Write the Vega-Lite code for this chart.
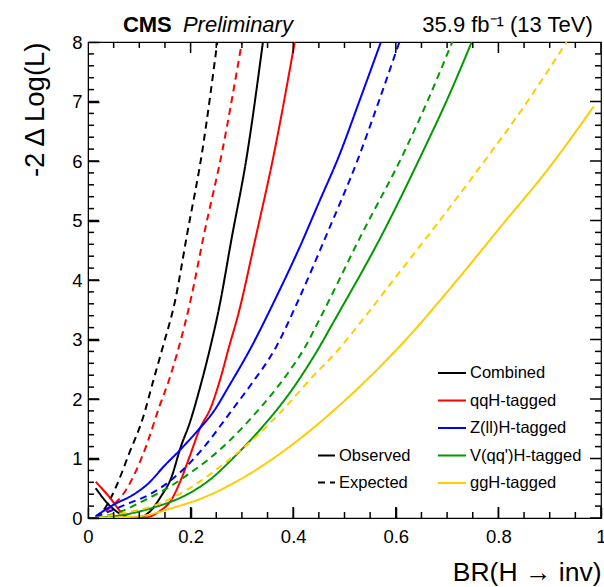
{
  "$schema": "https://vega.github.io/schema/vega-lite/v6.json",
  "width": 513,
  "height": 476,
  "autosize": {"type": "none"},
  "padding": {"left": 88, "top": 42, "right": 3, "bottom": 69},
  "background": "white",
  "config": {
    "font": "Liberation Sans",
    "view": {"stroke": "black", "strokeWidth": 1.2}
  },
  "datasets": {
    "curves": [
      {"channel":"Combined","kind":"Observed","x":0.015,"y":0.50},{"channel":"Combined","kind":"Observed","x":0.041,"y":0.22},{"channel":"Combined","kind":"Observed","x":0.067,"y":0.05},{"channel":"Combined","kind":"Observed","x":0.087,"y":0.01},{"channel":"Combined","kind":"Observed","x":0.10,"y":0.01},{"channel":"Combined","kind":"Observed","x":0.123,"y":0.13},{"channel":"Combined","kind":"Observed","x":0.142,"y":0.36},{"channel":"Combined","kind":"Observed","x":0.162,"y":0.67},{"channel":"Combined","kind":"Observed","x":0.181,"y":1.2},{"channel":"Combined","kind":"Observed","x":0.198,"y":1.59},{"channel":"Combined","kind":"Observed","x":0.217,"y":2.15},{"channel":"Combined","kind":"Observed","x":0.237,"y":2.82},{"channel":"Combined","kind":"Observed","x":0.256,"y":3.55},{"channel":"Combined","kind":"Observed","x":0.28,"y":4.7},{"channel":"Combined","kind":"Observed","x":0.309,"y":6.05},{"channel":"Combined","kind":"Observed","x":0.341,"y":8.0},
      {"channel":"Combined","kind":"Expected","x":0.015,"y":0.0},{"channel":"Combined","kind":"Expected","x":0.035,"y":0.19},{"channel":"Combined","kind":"Expected","x":0.056,"y":0.55},{"channel":"Combined","kind":"Expected","x":0.08,"y":1.08},{"channel":"Combined","kind":"Expected","x":0.107,"y":1.68},{"channel":"Combined","kind":"Expected","x":0.127,"y":2.3},{"channel":"Combined","kind":"Expected","x":0.145,"y":2.85},{"channel":"Combined","kind":"Expected","x":0.17,"y":3.66},{"channel":"Combined","kind":"Expected","x":0.193,"y":4.76},{"channel":"Combined","kind":"Expected","x":0.223,"y":6.18},{"channel":"Combined","kind":"Expected","x":0.252,"y":8.0},
      {"channel":"qqH-tagged","kind":"Observed","x":0.015,"y":0.61},{"channel":"qqH-tagged","kind":"Observed","x":0.041,"y":0.36},{"channel":"qqH-tagged","kind":"Observed","x":0.067,"y":0.08},{"channel":"qqH-tagged","kind":"Observed","x":0.08,"y":0.01},{"channel":"qqH-tagged","kind":"Observed","x":0.10,"y":0.0},{"channel":"qqH-tagged","kind":"Observed","x":0.119,"y":0.02},{"channel":"qqH-tagged","kind":"Observed","x":0.139,"y":0.11},{"channel":"qqH-tagged","kind":"Observed","x":0.162,"y":0.30},{"channel":"qqH-tagged","kind":"Observed","x":0.181,"y":0.64},{"channel":"qqH-tagged","kind":"Observed","x":0.198,"y":1.03},{"channel":"qqH-tagged","kind":"Observed","x":0.217,"y":1.48},{"channel":"qqH-tagged","kind":"Observed","x":0.24,"y":1.87},{"channel":"qqH-tagged","kind":"Observed","x":0.261,"y":2.43},{"channel":"qqH-tagged","kind":"Observed","x":0.275,"y":2.88},{"channel":"qqH-tagged","kind":"Observed","x":0.291,"y":3.36},{"channel":"qqH-tagged","kind":"Observed","x":0.328,"y":4.76},{"channel":"qqH-tagged","kind":"Observed","x":0.362,"y":6.1},{"channel":"qqH-tagged","kind":"Observed","x":0.403,"y":8.0},
      {"channel":"qqH-tagged","kind":"Expected","x":0.015,"y":0.0},{"channel":"qqH-tagged","kind":"Expected","x":0.04,"y":0.15},{"channel":"qqH-tagged","kind":"Expected","x":0.074,"y":0.47},{"channel":"qqH-tagged","kind":"Expected","x":0.113,"y":1.2},{"channel":"qqH-tagged","kind":"Expected","x":0.139,"y":1.87},{"channel":"qqH-tagged","kind":"Expected","x":0.158,"y":2.32},{"channel":"qqH-tagged","kind":"Expected","x":0.178,"y":2.9},{"channel":"qqH-tagged","kind":"Expected","x":0.2,"y":3.66},{"channel":"qqH-tagged","kind":"Expected","x":0.226,"y":4.76},{"channel":"qqH-tagged","kind":"Expected","x":0.262,"y":6.18},{"channel":"qqH-tagged","kind":"Expected","x":0.30,"y":8.0},
      {"channel":"Z(ll)H-tagged","kind":"Observed","x":0.015,"y":0.03},{"channel":"Z(ll)H-tagged","kind":"Observed","x":0.049,"y":0.22},{"channel":"Z(ll)H-tagged","kind":"Observed","x":0.088,"y":0.39},{"channel":"Z(ll)H-tagged","kind":"Observed","x":0.12,"y":0.6},{"channel":"Z(ll)H-tagged","kind":"Observed","x":0.147,"y":0.86},{"channel":"Z(ll)H-tagged","kind":"Observed","x":0.179,"y":1.14},{"channel":"Z(ll)H-tagged","kind":"Observed","x":0.215,"y":1.48},{"channel":"Z(ll)H-tagged","kind":"Observed","x":0.244,"y":1.78},{"channel":"Z(ll)H-tagged","kind":"Observed","x":0.277,"y":2.25},{"channel":"Z(ll)H-tagged","kind":"Observed","x":0.315,"y":2.82},{"channel":"Z(ll)H-tagged","kind":"Observed","x":0.364,"y":3.66},{"channel":"Z(ll)H-tagged","kind":"Observed","x":0.413,"y":4.56},{"channel":"Z(ll)H-tagged","kind":"Observed","x":0.45,"y":5.3},{"channel":"Z(ll)H-tagged","kind":"Observed","x":0.49,"y":6.1},{"channel":"Z(ll)H-tagged","kind":"Observed","x":0.53,"y":7.03},{"channel":"Z(ll)H-tagged","kind":"Observed","x":0.571,"y":8.0},
      {"channel":"Z(ll)H-tagged","kind":"Expected","x":0.015,"y":0.02},{"channel":"Z(ll)H-tagged","kind":"Expected","x":0.047,"y":0.13},{"channel":"Z(ll)H-tagged","kind":"Expected","x":0.08,"y":0.25},{"channel":"Z(ll)H-tagged","kind":"Expected","x":0.119,"y":0.39},{"channel":"Z(ll)H-tagged","kind":"Expected","x":0.158,"y":0.61},{"channel":"Z(ll)H-tagged","kind":"Expected","x":0.198,"y":0.92},{"channel":"Z(ll)H-tagged","kind":"Expected","x":0.237,"y":1.31},{"channel":"Z(ll)H-tagged","kind":"Expected","x":0.276,"y":1.76},{"channel":"Z(ll)H-tagged","kind":"Expected","x":0.315,"y":2.21},{"channel":"Z(ll)H-tagged","kind":"Expected","x":0.367,"y":2.88},{"channel":"Z(ll)H-tagged","kind":"Expected","x":0.41,"y":3.66},{"channel":"Z(ll)H-tagged","kind":"Expected","x":0.465,"y":4.76},{"channel":"Z(ll)H-tagged","kind":"Expected","x":0.527,"y":6.05},{"channel":"Z(ll)H-tagged","kind":"Expected","x":0.568,"y":7.03},{"channel":"Z(ll)H-tagged","kind":"Expected","x":0.607,"y":8.0},
      {"channel":"V(qq')H-tagged","kind":"Observed","x":0.015,"y":0.0},{"channel":"V(qq')H-tagged","kind":"Observed","x":0.067,"y":0.05},{"channel":"V(qq')H-tagged","kind":"Observed","x":0.133,"y":0.19},{"channel":"V(qq')H-tagged","kind":"Observed","x":0.185,"y":0.36},{"channel":"V(qq')H-tagged","kind":"Observed","x":0.237,"y":0.64},{"channel":"V(qq')H-tagged","kind":"Observed","x":0.289,"y":1.06},{"channel":"V(qq')H-tagged","kind":"Observed","x":0.341,"y":1.54},{"channel":"V(qq')H-tagged","kind":"Observed","x":0.393,"y":2.1},{"channel":"V(qq')H-tagged","kind":"Observed","x":0.446,"y":2.8},{"channel":"V(qq')H-tagged","kind":"Observed","x":0.481,"y":3.33},{"channel":"V(qq')H-tagged","kind":"Observed","x":0.573,"y":4.76},{"channel":"V(qq')H-tagged","kind":"Observed","x":0.654,"y":6.18},{"channel":"V(qq')H-tagged","kind":"Observed","x":0.70,"y":7.03},{"channel":"V(qq')H-tagged","kind":"Observed","x":0.748,"y":8.0},
      {"channel":"V(qq')H-tagged","kind":"Expected","x":0.015,"y":0.0},{"channel":"V(qq')H-tagged","kind":"Expected","x":0.067,"y":0.12},{"channel":"V(qq')H-tagged","kind":"Expected","x":0.106,"y":0.28},{"channel":"V(qq')H-tagged","kind":"Expected","x":0.158,"y":0.52},{"channel":"V(qq')H-tagged","kind":"Expected","x":0.198,"y":0.75},{"channel":"V(qq')H-tagged","kind":"Expected","x":0.237,"y":1.0},{"channel":"V(qq')H-tagged","kind":"Expected","x":0.276,"y":1.3},{"channel":"V(qq')H-tagged","kind":"Expected","x":0.315,"y":1.65},{"channel":"V(qq')H-tagged","kind":"Expected","x":0.36,"y":2.1},{"channel":"V(qq')H-tagged","kind":"Expected","x":0.395,"y":2.5},{"channel":"V(qq')H-tagged","kind":"Expected","x":0.423,"y":2.87},{"channel":"V(qq')H-tagged","kind":"Expected","x":0.449,"y":3.3},{"channel":"V(qq')H-tagged","kind":"Expected","x":0.533,"y":4.76},{"channel":"V(qq')H-tagged","kind":"Expected","x":0.618,"y":6.18},{"channel":"V(qq')H-tagged","kind":"Expected","x":0.663,"y":7.03},{"channel":"V(qq')H-tagged","kind":"Expected","x":0.71,"y":8.0},
      {"channel":"ggH-tagged","kind":"Observed","x":0.015,"y":0.0},{"channel":"ggH-tagged","kind":"Observed","x":0.1,"y":0.03},{"channel":"ggH-tagged","kind":"Observed","x":0.165,"y":0.17},{"channel":"ggH-tagged","kind":"Observed","x":0.23,"y":0.36},{"channel":"ggH-tagged","kind":"Observed","x":0.295,"y":0.64},{"channel":"ggH-tagged","kind":"Observed","x":0.361,"y":1.0},{"channel":"ggH-tagged","kind":"Observed","x":0.426,"y":1.42},{"channel":"ggH-tagged","kind":"Observed","x":0.491,"y":1.9},{"channel":"ggH-tagged","kind":"Observed","x":0.569,"y":2.54},{"channel":"ggH-tagged","kind":"Observed","x":0.62,"y":3.0},{"channel":"ggH-tagged","kind":"Observed","x":0.71,"y":3.9},{"channel":"ggH-tagged","kind":"Observed","x":0.804,"y":4.89},{"channel":"ggH-tagged","kind":"Observed","x":0.9,"y":5.9},{"channel":"ggH-tagged","kind":"Observed","x":0.986,"y":6.92},
      {"channel":"ggH-tagged","kind":"Expected","x":0.015,"y":0.0},{"channel":"ggH-tagged","kind":"Expected","x":0.067,"y":0.08},{"channel":"ggH-tagged","kind":"Expected","x":0.133,"y":0.22},{"channel":"ggH-tagged","kind":"Expected","x":0.198,"y":0.5},{"channel":"ggH-tagged","kind":"Expected","x":0.263,"y":0.9},{"channel":"ggH-tagged","kind":"Expected","x":0.328,"y":1.37},{"channel":"ggH-tagged","kind":"Expected","x":0.38,"y":1.82},{"channel":"ggH-tagged","kind":"Expected","x":0.432,"y":2.32},{"channel":"ggH-tagged","kind":"Expected","x":0.49,"y":2.85},{"channel":"ggH-tagged","kind":"Expected","x":0.537,"y":3.35},{"channel":"ggH-tagged","kind":"Expected","x":0.6,"y":4.05},{"channel":"ggH-tagged","kind":"Expected","x":0.667,"y":4.79},{"channel":"ggH-tagged","kind":"Expected","x":0.76,"y":5.85},{"channel":"ggH-tagged","kind":"Expected","x":0.859,"y":7.03},{"channel":"ggH-tagged","kind":"Expected","x":0.933,"y":8.0}
    ],
    "notes": [
      {"part": "cms", "label": "CMS", "x": 0.068, "y": 8},
      {"part": "prelim", "label": "Preliminary", "x": 0.185, "y": 8},
      {"part": "lumi", "label": "35.9 fb⁻¹ (13 TeV)", "x": 0.984, "y": 8}
    ],
    "xticks": [
      {"x":0.0,"level":"major"},{"x":0.05,"level":"minor"},{"x":0.1,"level":"minor"},{"x":0.15,"level":"minor"},{"x":0.2,"level":"major"},{"x":0.25,"level":"minor"},{"x":0.3,"level":"minor"},{"x":0.35,"level":"minor"},{"x":0.4,"level":"major"},{"x":0.45,"level":"minor"},{"x":0.5,"level":"minor"},{"x":0.55,"level":"minor"},{"x":0.6,"level":"major"},{"x":0.65,"level":"minor"},{"x":0.7,"level":"minor"},{"x":0.75,"level":"minor"},{"x":0.8,"level":"major"},{"x":0.85,"level":"minor"},{"x":0.9,"level":"minor"},{"x":0.95,"level":"minor"},{"x":1.0,"level":"major"}
    ],
    "yticks": [
      {"y":0,"level":"major"},{"y":0.2,"level":"minor"},{"y":0.4,"level":"minor"},{"y":0.6,"level":"minor"},{"y":0.8,"level":"minor"},
      {"y":1,"level":"major"},{"y":1.2,"level":"minor"},{"y":1.4,"level":"minor"},{"y":1.6,"level":"minor"},{"y":1.8,"level":"minor"},
      {"y":2,"level":"major"},{"y":2.2,"level":"minor"},{"y":2.4,"level":"minor"},{"y":2.6,"level":"minor"},{"y":2.8,"level":"minor"},
      {"y":3,"level":"major"},{"y":3.2,"level":"minor"},{"y":3.4,"level":"minor"},{"y":3.6,"level":"minor"},{"y":3.8,"level":"minor"},
      {"y":4,"level":"major"},{"y":4.2,"level":"minor"},{"y":4.4,"level":"minor"},{"y":4.6,"level":"minor"},{"y":4.8,"level":"minor"},
      {"y":5,"level":"major"},{"y":5.2,"level":"minor"},{"y":5.4,"level":"minor"},{"y":5.6,"level":"minor"},{"y":5.8,"level":"minor"},
      {"y":6,"level":"major"},{"y":6.2,"level":"minor"},{"y":6.4,"level":"minor"},{"y":6.6,"level":"minor"},{"y":6.8,"level":"minor"},
      {"y":7,"level":"major"},{"y":7.2,"level":"minor"},{"y":7.4,"level":"minor"},{"y":7.6,"level":"minor"},{"y":7.8,"level":"minor"},
      {"y":8,"level":"major"}
    ]
  },
  "layer": [
    {
      "data": {"name": "curves"},
      "mark": {"type": "line", "strokeWidth": 2, "interpolate": "monotone", "clip": true},
      "encoding": {
        "x": {
          "field": "x", "type": "quantitative",
          "scale": {"domain": [0, 1], "nice": false, "zero": false},
          "axis": {
            "orient": "bottom", "grid": true, "gridOpacity": 0, "domainColor": "black", "tickColor": "black", "tickWidth": 1.5, "tickSize": -11,
            "values": [0, 0.2, 0.4, 0.6, 0.8, 1], "format": "~g",
            "labelFontSize": 18.5, "labelColor": "black", "labelBaseline": "top", "labelPadding": 20, "labelFlush": false, "labelOverlap": false,
            "title": "BR(H → inv)", "titleColor": "black", "titleFontSize": 26.5, "titleFontWeight": "normal",
            "titleX": 513, "titleY": 62, "titleAlign": "right", "titleBaseline": "alphabetic"
          }
        },
        "y": {
          "field": "y", "type": "quantitative",
          "scale": {"domain": [0, 8], "nice": false, "zero": false},
          "axis": {
            "orient": "left", "grid": true, "gridOpacity": 0, "domainColor": "black", "tickColor": "black", "tickWidth": 1.5, "tickSize": -11,
            "values": [0, 1, 2, 3, 4, 5, 6, 7, 8], "format": "~g",
            "labelFontSize": 18.5, "labelColor": "black", "labelAlign": "right", "labelBaseline": "middle", "labelPadding": 17, "labelFlush": false, "labelOverlap": false,
            "title": "-2 Δ Log(L)", "titleColor": "black", "titleFontSize": 27.5, "titleFontWeight": "normal",
            "titleAngle": 270, "titleX": -45, "titleY": 0, "titleAlign": "right", "titleBaseline": "alphabetic"
          }
        },
        "color": {
          "field": "channel", "type": "nominal",
          "scale": {"domain": ["Combined", "qqH-tagged", "Z(ll)H-tagged", "V(qq')H-tagged", "ggH-tagged"], "range": ["#000000", "#ff0000", "#0000ff", "#009900", "#ffcc00"]},
          "legend": {"orient": "none", "legendX": 349, "legendY": 316, "title": null, "symbolType": "stroke", "symbolSize": 784, "symbolStrokeWidth": 2, "labelFontSize": 16.5, "labelColor": "black", "labelOffset": 3, "padding": 0, "rowPadding": 3.5}
        },
        "strokeDash": {
          "field": "kind", "type": "nominal",
          "scale": {"domain": ["Observed", "Expected"], "range": [[1, 0], [7, 5]]},
          "legend": {"orient": "none", "legendX": 229, "legendY": 404, "title": null, "symbolType": "stroke", "symbolSize": 289, "symbolStrokeWidth": 2, "symbolStrokeColor": "black", "labelFontSize": 16.5, "labelColor": "black", "labelOffset": 3, "padding": 0, "rowPadding": 9}
        }
      }
    },
    {
      "data": {"name": "xticks"},
      "mark": {"type": "tick", "orient": "vertical", "clip": true, "color": "black", "opacity": 1, "thickness": 1.5},
      "encoding": {
        "x": {"field": "x", "type": "quantitative"},
        "y": {"datum": 0},
        "size": {"field": "level", "type": "ordinal", "scale": {"domain": ["major", "minor"], "range": [22, 12]}, "legend": null}
      }
    },
    {
      "data": {"name": "xticks"},
      "mark": {"type": "tick", "orient": "vertical", "clip": true, "color": "black", "opacity": 1, "thickness": 1.5},
      "encoding": {
        "x": {"field": "x", "type": "quantitative"},
        "y": {"datum": 8},
        "size": {"field": "level", "type": "ordinal", "scale": {"domain": ["major", "minor"], "range": [22, 12]}, "legend": null}
      }
    },
    {
      "data": {"name": "yticks"},
      "mark": {"type": "tick", "orient": "horizontal", "clip": true, "color": "black", "opacity": 1, "thickness": 1.5},
      "encoding": {
        "y": {"field": "y", "type": "quantitative"},
        "x": {"datum": 0},
        "size": {"field": "level", "type": "ordinal", "scale": {"domain": ["major", "minor"], "range": [22, 12]}, "legend": null}
      }
    },
    {
      "data": {"name": "yticks"},
      "mark": {"type": "tick", "orient": "horizontal", "clip": true, "color": "black", "opacity": 1, "thickness": 1.5},
      "encoding": {
        "y": {"field": "y", "type": "quantitative"},
        "x": {"datum": 1},
        "size": {"field": "level", "type": "ordinal", "scale": {"domain": ["major", "minor"], "range": [22, 12]}, "legend": null}
      }
    },
    {
      "data": {"name": "notes"},
      "transform": [{"filter": "datum.part == 'cms'"}],
      "mark": {"type": "text", "fontSize": 22, "fontWeight": "bold", "align": "left", "baseline": "alphabetic", "dy": -10, "color": "black"},
      "encoding": {
        "x": {"field": "x", "type": "quantitative"},
        "y": {"field": "y", "type": "quantitative"},
        "text": {"field": "label"}
      }
    },
    {
      "data": {"name": "notes"},
      "transform": [{"filter": "datum.part == 'prelim'"}],
      "mark": {"type": "text", "fontSize": 22, "fontStyle": "italic", "align": "left", "baseline": "alphabetic", "dy": -10, "color": "black"},
      "encoding": {
        "x": {"field": "x", "type": "quantitative"},
        "y": {"field": "y", "type": "quantitative"},
        "text": {"field": "label"}
      }
    },
    {
      "data": {"name": "notes"},
      "transform": [{"filter": "datum.part == 'lumi'"}],
      "mark": {"type": "text", "fontSize": 22, "align": "right", "baseline": "alphabetic", "dy": -10, "color": "black"},
      "encoding": {
        "x": {"field": "x", "type": "quantitative"},
        "y": {"field": "y", "type": "quantitative"},
        "text": {"field": "label"}
      }
    }
  ]
}
